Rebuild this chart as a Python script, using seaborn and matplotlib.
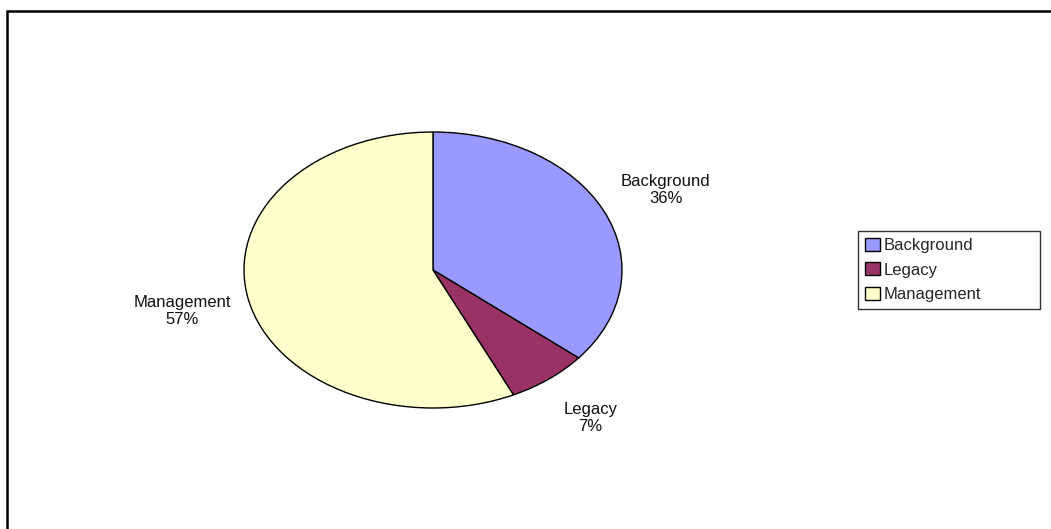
import numpy as np
import matplotlib
matplotlib.use('Agg')
import matplotlib.pyplot as plt
import matplotlib.patches as mpatches
import seaborn as sns

# 数据
categories = ['Background', 'Legacy', 'Management']
shares = [36, 7, 57]
slice_colors = ['#9999FF', '#993366', '#FFFFCC']

sns.set_theme(style='white')
plt.rcParams['font.family'] = ['Liberation Sans', 'DejaVu Sans']

fig = plt.figure(figsize=(10.51, 5.29), dpi=100)
# 饼图区域（椭圆形，Excel 风格）
ax = fig.add_axes([244 / 1051, 1 - 408 / 529, 378 / 1051, 276 / 529])

labels = [f'{c}\n{v}%' for c, v in zip(categories, shares)]
wedges, texts = ax.pie(shares, colors=sns.color_palette(slice_colors), labels=labels,
                       startangle=90, counterclock=False, labeldistance=1.36,
                       wedgeprops=dict(edgecolor='black', linewidth=1.0),
                       textprops=dict(fontsize=12, color='#111111'))
for t in texts:
    t.set_ha('center')
    t.set_va('center')
    t.set_multialignment('center')
    t.set_linespacing(1.2)

ax.set_aspect('auto')
ax.set_xlim(-1, 1)
ax.set_ylim(-1, 1)
ax.axis('off')

# 图例
leg = fig.legend(wedges, categories, loc='upper left', mode='expand',
                 bbox_to_anchor=(858 / 1051, 1 - 232 / 529, 182 / 1051, 0.001),
                 frameon=True, fancybox=False, edgecolor='black',
                 fontsize=12, handlelength=0.9, handleheight=0.8,
                 handletextpad=0.25, labelspacing=0.55, borderpad=0.4,
                 borderaxespad=0)
leg.get_frame().set_linewidth(1.0)

# 外框
fig.patches.append(mpatches.Rectangle((7 / 1051, -0.1), 1.2, 0.1 + 1 - 11 / 529,
                                      transform=fig.transFigure, fill=False,
                                      edgecolor='black', linewidth=1.8))

fig.savefig('out.png', dpi=100, facecolor='white')
